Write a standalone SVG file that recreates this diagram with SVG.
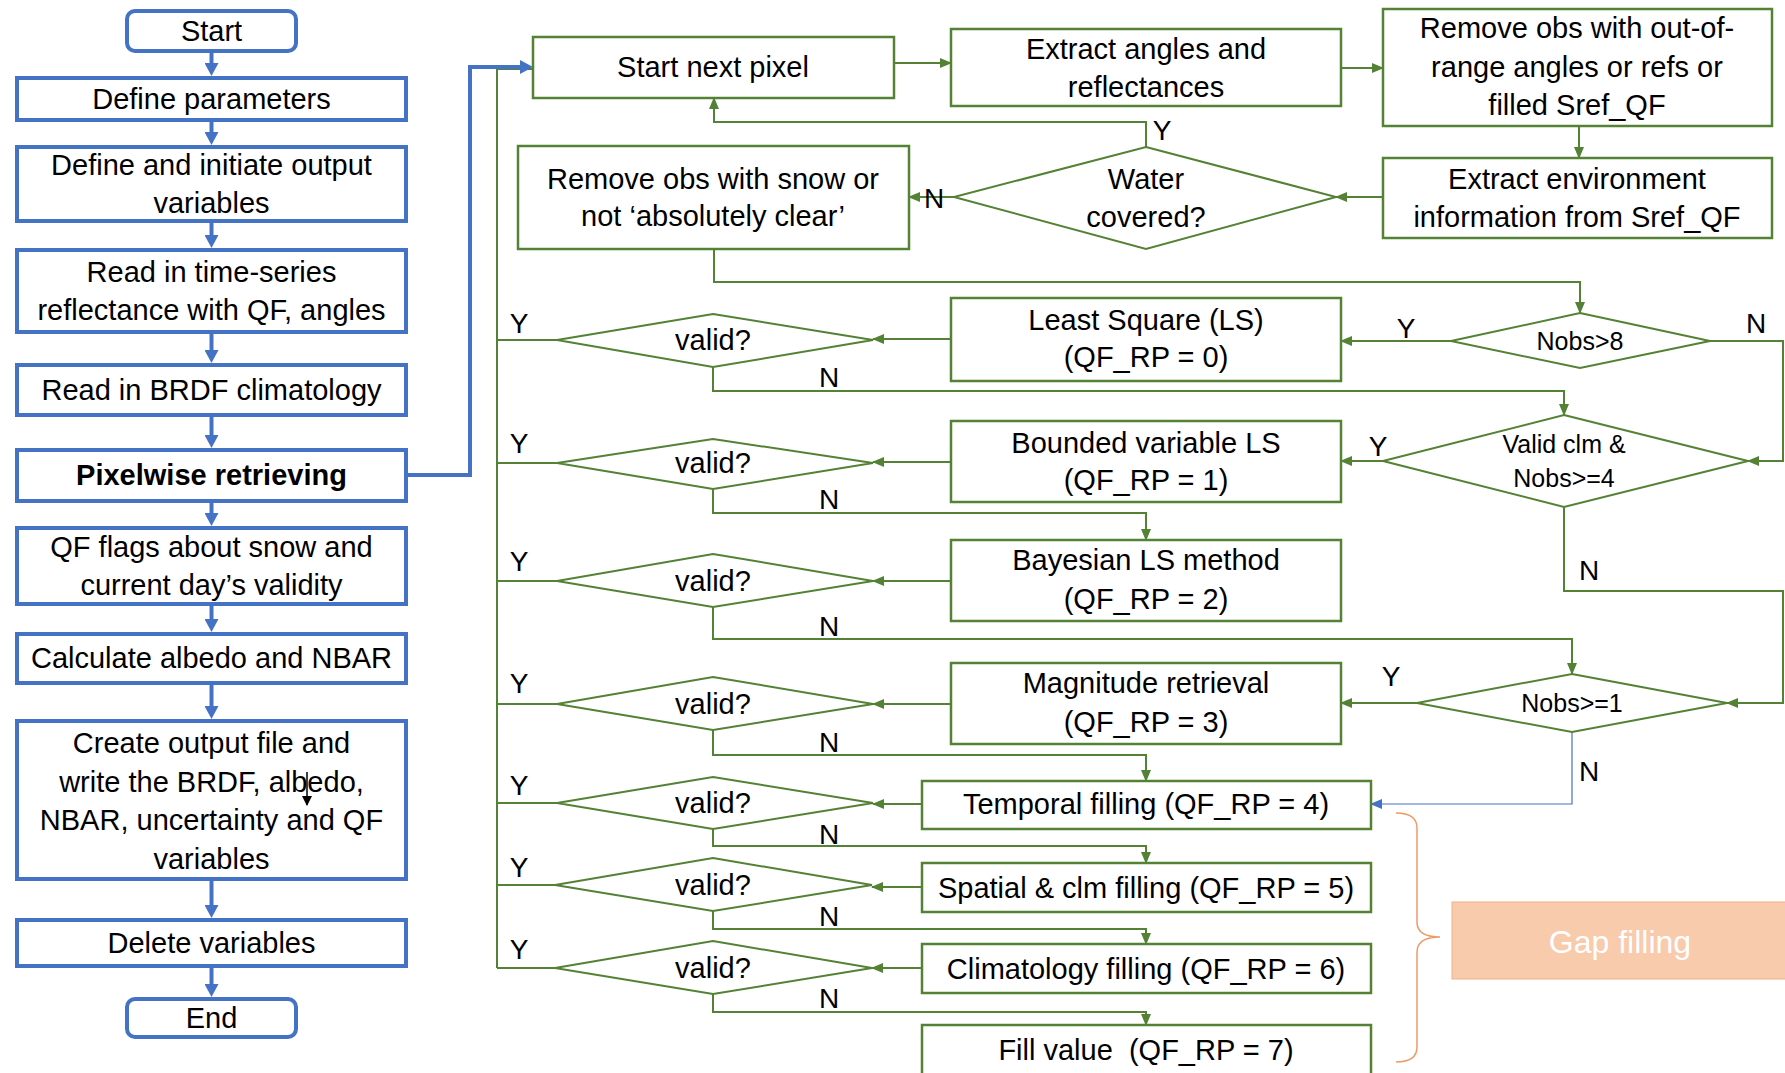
<svg xmlns="http://www.w3.org/2000/svg" width="1785" height="1073" viewBox="0 0 1785 1073">
  <style>
    text { font-family: "Liberation Sans", Arial, sans-serif; font-size: 29px; fill: #000; text-anchor: middle; }
    .bold { font-weight: bold; }
    .lab { font-size: 28px; }
    .sm { font-size: 25px; }
    .gap { font-size: 32px; fill: #ffffff; }
    .bbox { fill: #ffffff; stroke: #4472C4; stroke-width: 4; }
    .blink { fill: none; stroke: #4472C4; stroke-width: 4; marker-end: url(#arrBlue); }
    .gbox { fill: #ffffff; stroke: #548235; stroke-width: 2.5; }
    .gdia { fill: #ffffff; stroke: #548235; stroke-width: 2; }
    .glink { fill: none; stroke: #548235; stroke-width: 2; }
    .garr { marker-end: url(#arrGreen); }
  </style>
  <defs>
    <marker id="arrBlue" markerUnits="userSpaceOnUse" markerWidth="14" markerHeight="14" refX="5" refY="7" orient="auto">
      <path d="M0,0 L13,7 L0,14 z" fill="#4472C4"/>
    </marker>
    <marker id="arrGreen" markerUnits="userSpaceOnUse" markerWidth="12" markerHeight="10" refX="11" refY="5" orient="auto">
      <path d="M0,0 L12,5 L0,10 z" fill="#548235"/>
    </marker>
    <marker id="arrThinBlue" markerUnits="userSpaceOnUse" markerWidth="12" markerHeight="10" refX="11" refY="5" orient="auto">
      <path d="M0,0 L12,5 L0,10 z" fill="#4472C4"/>
    </marker>
    <marker id="arrBlack" markerUnits="userSpaceOnUse" markerWidth="10" markerHeight="10" refX="9" refY="5" orient="auto">
      <path d="M0,0 L10,5 L0,10 z" fill="#000"/>
    </marker>
  </defs>

  <rect x="0" y="0" width="1785" height="1073" fill="#ffffff"/>

  <!-- connectors -->
  <g id="connectors">
    <!-- main program column -->
    <path class="blink" d="M211.5,53 V68"/>
    <path class="blink" d="M211.5,122 V137"/>
    <path class="blink" d="M211.5,223 V240"/>
    <path class="blink" d="M211.5,334 V355"/>
    <path class="blink" d="M211.5,417 V440"/>
    <path class="blink" d="M211.5,503 V518"/>
    <path class="blink" d="M211.5,606 V624"/>
    <path class="blink" d="M211.5,685 V711"/>
    <path class="blink" d="M211.5,881 V910"/>
    <path class="blink" d="M211.5,968 V989"/>

    <!-- Y return bus back to "Start next pixel" -->
    <path class="glink" d="M497,968 V69 H533"/>
    <path class="glink" d="M497,340 H557"/>
    <path class="glink" d="M497,463 H557"/>
    <path class="glink" d="M497,581 H557"/>
    <path class="glink" d="M497,704 H557"/>
    <path class="glink" d="M497,803 H557"/>
    <path class="glink" d="M497,885 H557"/>
    <path class="glink" d="M497,968 H557"/>

    <!-- entry into the per-pixel loop -->
    <path class="blink" d="M408,475 H470 V67 H525"/>

    <!-- per-pixel pipeline -->
    <path class="glink garr" d="M894,63 H951"/>
    <path class="glink garr" d="M1341,68 H1383"/>
    <path class="glink garr" d="M1579,126 V158"/>
    <path class="glink garr" d="M1383,197 H1336"/>
    <path class="glink garr" d="M1146,147 V122 H714 V98"/>
    <path class="glink garr" d="M954,197 H909"/>
    <path class="glink garr" d="M714,249 V282 H1580 V313"/>
    <path class="glink garr" d="M1451,341 H1341"/>
    <path class="glink garr" d="M1710,341 H1783 V461 H1748"/>
    <path class="glink garr" d="M951,339 H873"/>
    <path class="glink garr" d="M713,367 V391 H1564 V415"/>
    <path class="glink garr" d="M1383,461 H1341"/>
    <path class="glink garr" d="M951,462 H873"/>
    <path class="glink garr" d="M713,489 V513 H1146 V540"/>
    <path class="glink garr" d="M951,581 H873"/>
    <path class="glink garr" d="M713,607 V639 H1572 V674"/>
    <path class="glink garr" d="M1564,507 V591 H1783 V703 H1727"/>
    <path class="glink garr" d="M1417,703 H1341"/>
    <path class="glink garr" d="M951,704 H873"/>
    <path class="glink garr" d="M713,730 V755 H1146 V781"/>
    <path fill="none" stroke="#4472C4" stroke-width="1.2" marker-end="url(#arrThinBlue)" d="M1572,732 V804 H1371"/>
    <path class="glink garr" d="M922,804 H873"/>
    <path class="glink garr" d="M713,829 V846 H1146 V863"/>
    <path class="glink garr" d="M922,887 H872"/>
    <path class="glink garr" d="M713,911 V929 H1146 V944"/>
    <path class="glink garr" d="M922,968 H872"/>
    <path class="glink garr" d="M713,994 V1012 H1146 V1025"/>
  </g>

  <!-- main program column -->
  <g id="start"><rect class="bbox" x="127" y="11" width="169" height="40" rx="8"/><text x="211.5" y="41">Start</text></g>
  <g id="define-parameters"><rect class="bbox" x="17" y="78" width="389" height="42"/><text x="211.5" y="109">Define parameters</text></g>
  <g id="define-output"><rect class="bbox" x="17" y="147" width="389" height="74"/><text x="211.5" y="175">Define and initiate output</text><text x="211.5" y="213">variables</text></g>
  <g id="read-timeseries"><rect class="bbox" x="17" y="250" width="389" height="82"/><text x="211.5" y="282">Read in time-series</text><text x="211.5" y="320">reflectance with QF, angles</text></g>
  <g id="read-brdf"><rect class="bbox" x="17" y="365" width="389" height="50"/><text x="211.5" y="400">Read in BRDF climatology</text></g>
  <g id="pixelwise"><rect class="bbox" x="17" y="450" width="389" height="51"/><text class="bold" x="211.5" y="485">Pixelwise retrieving</text></g>
  <g id="qf-flags"><rect class="bbox" x="17" y="528" width="389" height="76"/><text x="211.5" y="557">QF flags about snow and</text><text x="211.5" y="595">current day’s validity</text></g>
  <g id="calculate"><rect class="bbox" x="17" y="634" width="389" height="49"/><text x="211.5" y="668">Calculate albedo and NBAR</text></g>
  <g id="create-output"><rect class="bbox" x="17" y="721" width="389" height="158"/><text x="211.5" y="753">Create output file and</text><text x="211.5" y="792">write the BRDF, albedo,</text><text x="211.5" y="830">NBAR, uncertainty and QF</text><text x="211.5" y="869">variables</text>
    <!-- stray cursor arrow over the text -->
    <path fill="none" stroke="#000" stroke-width="1.5" marker-end="url(#arrBlack)" d="M307,772 V805"/>
  </g>
  <g id="delete"><rect class="bbox" x="17" y="920" width="389" height="46"/><text x="211.5" y="953">Delete variables</text></g>
  <g id="end"><rect class="bbox" x="127" y="999" width="169" height="38" rx="8"/><text x="211.5" y="1028">End</text></g>

  <!-- per-pixel steps -->
  <g id="start-next-pixel"><rect class="gbox" x="533" y="37" width="361" height="61"/><text x="713" y="77">Start next pixel</text></g>
  <g id="extract-angles"><rect class="gbox" x="951" y="29" width="390" height="77"/><text x="1146" y="59">Extract angles and</text><text x="1146" y="97">reflectances</text></g>
  <g id="remove-out-of-range"><rect class="gbox" x="1383" y="9" width="389" height="117"/><text x="1577" y="38">Remove obs with out-of-</text><text x="1577" y="77">range angles or refs or</text><text x="1577" y="115">filled Sref_QF</text></g>
  <g id="extract-environment"><rect class="gbox" x="1383" y="158" width="389" height="80"/><text x="1577" y="189">Extract environment</text><text x="1577" y="227">information from Sref_QF</text></g>
  <g id="water-covered"><polygon class="gdia" points="1146,147 1336,197 1146,249 954,197"/><text x="1146" y="189">Water</text><text x="1146" y="227">covered?</text></g>
  <g id="remove-snow"><rect class="gbox" x="518" y="146" width="391" height="103"/><text x="713" y="189">Remove obs with snow or</text><text x="713" y="226">not ‘absolutely clear’</text></g>

  <g id="nobs-gt-8"><polygon class="gdia" points="1580,313 1710,341 1580,368 1451,341"/><text class="sm" x="1580" y="350">Nobs&gt;8</text></g>
  <g id="valid-clm"><polygon class="gdia" points="1564,415 1748,461 1564,507 1383,461"/><text class="sm" x="1564" y="453">Valid clm &amp;</text><text class="sm" x="1564" y="487">Nobs&gt;=4</text></g>
  <g id="nobs-ge-1"><polygon class="gdia" points="1572,674 1727,703 1572,732 1417,703"/><text class="sm" x="1572" y="712">Nobs&gt;=1</text></g>

  <g id="least-square"><rect class="gbox" x="951" y="298" width="390" height="83"/><text x="1146" y="330">Least Square (LS)</text><text x="1146" y="367">(QF_RP = 0)</text></g>
  <g id="bounded-ls"><rect class="gbox" x="951" y="421" width="390" height="81"/><text x="1146" y="453">Bounded variable LS</text><text x="1146" y="490">(QF_RP = 1)</text></g>
  <g id="bayesian-ls"><rect class="gbox" x="951" y="540" width="390" height="81"/><text x="1146" y="570">Bayesian LS method</text><text x="1146" y="609">(QF_RP = 2)</text></g>
  <g id="magnitude"><rect class="gbox" x="951" y="663" width="390" height="81"/><text x="1146" y="693">Magnitude retrieval</text><text x="1146" y="732">(QF_RP = 3)</text></g>
  <g id="temporal-filling"><rect class="gbox" x="922" y="781" width="449" height="48"/><text x="1146" y="814">Temporal filling (QF_RP = 4)</text></g>
  <g id="spatial-filling"><rect class="gbox" x="922" y="863" width="449" height="49"/><text x="1146" y="898">Spatial &amp; clm filling (QF_RP = 5)</text></g>
  <g id="climatology-filling"><rect class="gbox" x="922" y="944" width="449" height="49"/><text x="1146" y="979">Climatology filling (QF_RP = 6)</text></g>
  <g id="fill-value"><rect class="gbox" x="922" y="1025" width="449" height="52"/><text x="1146" y="1060" xml:space="preserve">Fill value  (QF_RP = 7)</text></g>

  <!-- validity checks -->
  <g id="valid-0"><polygon class="gdia" points="713,314 873,340 713,367 557,340"/><text x="713" y="350">valid?</text></g>
  <g id="valid-1"><polygon class="gdia" points="713,439 873,463 713,489 557,463"/><text x="713" y="473">valid?</text></g>
  <g id="valid-2"><polygon class="gdia" points="713,554 873,581 713,607 557,581"/><text x="713" y="591">valid?</text></g>
  <g id="valid-3"><polygon class="gdia" points="713,677 873,704 713,730 557,704"/><text x="713" y="714">valid?</text></g>
  <g id="valid-4"><polygon class="gdia" points="713,777 873,803 713,829 557,803"/><text x="713" y="813">valid?</text></g>
  <g id="valid-5"><polygon class="gdia" points="713,858 872,885 713,911 555,885"/><text x="713" y="895">valid?</text></g>
  <g id="valid-6"><polygon class="gdia" points="713,941 872,968 713,994 555,968"/><text x="713" y="978">valid?</text></g>

  <!-- branch labels -->
  <g id="branch-labels">
    <text class="lab" x="1162" y="140">Y</text>
    <text class="lab" x="934" y="208">N</text>
    <text class="lab" x="1406" y="338">Y</text>
    <text class="lab" x="1756" y="333">N</text>
    <text class="lab" x="1378" y="456">Y</text>
    <text class="lab" x="1589" y="580">N</text>
    <text class="lab" x="1391" y="686">Y</text>
    <text class="lab" x="1589" y="781">N</text>
    <text class="lab" x="519" y="333">Y</text>
    <text class="lab" x="519" y="453">Y</text>
    <text class="lab" x="519" y="571">Y</text>
    <text class="lab" x="519" y="693">Y</text>
    <text class="lab" x="519" y="795">Y</text>
    <text class="lab" x="519" y="877">Y</text>
    <text class="lab" x="519" y="959">Y</text>
    <text class="lab" x="829" y="387">N</text>
    <text class="lab" x="829" y="509">N</text>
    <text class="lab" x="829" y="636">N</text>
    <text class="lab" x="829" y="752">N</text>
    <text class="lab" x="829" y="844">N</text>
    <text class="lab" x="829" y="926">N</text>
    <text class="lab" x="829" y="1008">N</text>
  </g>

  <!-- gap filling annotation -->
  <g id="gap-filling">
    <path fill="none" stroke="#ED9B66" stroke-width="1.5" d="M1396,813 Q1417,813 1417,828 V922 Q1417,937 1440,937 Q1417,937 1417,952 V1047 Q1417,1062 1396,1062"/>
    <rect x="1452" y="902" width="340" height="77" fill="#F8CBAD" stroke="#F4B183" stroke-width="1"/>
    <text class="gap" x="1620" y="953">Gap filling</text>
  </g>
</svg>
